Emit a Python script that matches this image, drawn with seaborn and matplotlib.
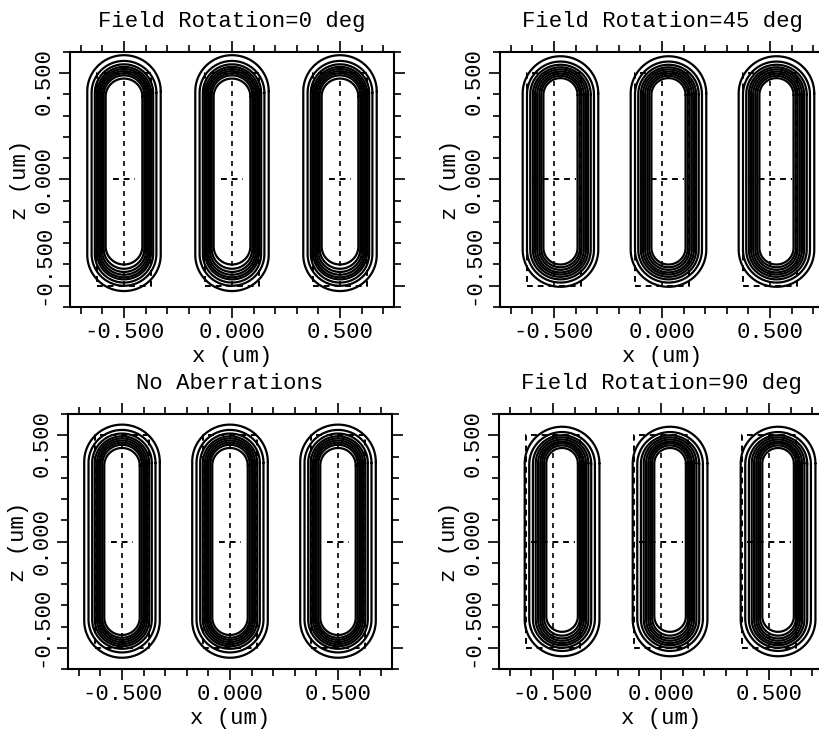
import numpy as np
import pandas as pd
import matplotlib
matplotlib.use("Agg")
import matplotlib.pyplot as plt
import matplotlib.transforms as mtransforms
from matplotlib.ticker import MultipleLocator
import seaborn as sns

# ------------------------------
# data
# ------------------------------
panel_titles = ["Field Rotation=0 deg", "Field Rotation=45 deg",
                "No Aberrations", "Field Rotation=90 deg"]
line_centers = [-0.5, 0.0, 0.5]
mask_half_width = 0.125
mask_half_length = 0.5
tick_values = [-0.5, 0.0, 0.5]
tick_labels = ["-0.500", "0.000", "0.500"]

# contour half-width / top / bottom (um), outermost first
rot0_half_width = [0.170, 0.150, 0.135, 0.125, 0.117, 0.110, 0.102, 0.094, 0.085]
rot0_top = [0.585, 0.558, 0.542, 0.530, 0.520, 0.510, 0.500, 0.490, 0.475]
rot0_bottom = [-0.525, -0.500, -0.485, -0.470, -0.460, -0.448, -0.435, -0.420, -0.400]

rot45_half_width = [0.175, 0.155, 0.140, 0.128, 0.118, 0.108, 0.098, 0.089, 0.079]
rot45_top = [0.580, 0.555, 0.540, 0.528, 0.518, 0.508, 0.498, 0.488, 0.477]
rot45_bottom = [-0.505, -0.485, -0.470, -0.458, -0.447, -0.437, -0.425, -0.413, -0.400]

noab_half_width = [0.175, 0.155, 0.138, 0.126, 0.116, 0.107, 0.099, 0.091, 0.082]
noab_top = [0.550, 0.525, 0.508, 0.495, 0.485, 0.475, 0.465, 0.455, 0.440]
noab_bottom = [-0.547, -0.522, -0.505, -0.493, -0.483, -0.473, -0.463, -0.453, -0.440]

rot90_half_width = [0.173, 0.152, 0.135, 0.122, 0.111, 0.101, 0.092, 0.083, 0.073]
rot90_top = [0.540, 0.515, 0.500, 0.490, 0.480, 0.470, 0.462, 0.452, 0.440]
rot90_bottom = [-0.540, -0.515, -0.500, -0.488, -0.478, -0.467, -0.456, -0.443, -0.425]

# image shift of the printed line in x (um) and half-length of the cross mark
image_shift = [0.0, 0.030, 0.0, 0.042]
cross_half = [0.05, 0.10, 0.05, 0.10]

contours = [
    (rot0_half_width, rot0_top, rot0_bottom),
    (rot45_half_width, rot45_top, rot45_bottom),
    (noab_half_width, noab_top, noab_bottom),
    (rot90_half_width, rot90_top, rot90_bottom),
]

# axes boxes in pixels: left, top (figure is 820x733)
W, H = 820, 733
boxes_px = [(70, 52), (500, 52), (68, 414), (499, 414)]
AX_W, AX_H = 324, 255
FS = 16


def pill(xc, hw, top, bottom, n=60):
    """closed outline: straight sides, round end caps"""
    cap = hw
    th = np.linspace(0, np.pi, n)
    ex, ez = np.cos(th), np.sin(th)
    x_top = xc + hw * ex
    z_top = top - cap + cap * ez
    x_bot = xc - hw * ex
    z_bot = bottom + cap - cap * ez
    x = np.concatenate([x_top, x_bot, x_top[:1]])
    z = np.concatenate([z_top, z_bot, z_top[:1]])
    return x, z


sns.set_theme(style="white")
plt.rcParams["font.family"] = ["Liberation Mono", "DejaVu Sans Mono"]
plt.rcParams["font.size"] = FS

fig = plt.figure(figsize=(W / 100, H / 100), dpi=100)

for i, (title, (hws, tops, bots)) in enumerate(zip(panel_titles, contours)):
    left, top_px = boxes_px[i]
    ax = fig.add_axes([left / W, 1 - (top_px + AX_H) / H, AX_W / W, AX_H / H])

    rows = []
    for j, c in enumerate(line_centers):
        for k in range(len(hws)):
            x, z = pill(c + image_shift[i], hws[k], tops[k], bots[k])
            rows.append(pd.DataFrame({"x": x, "z": z, "cid": j * 100 + k}))
    df = pd.concat(rows, ignore_index=True)
    sns.lineplot(data=df, x="x", y="z", units="cid", estimator=None, sort=False,
                 color="black", lw=1.6, ax=ax, legend=False)

    # mask outline and centre marks (dashed)
    for c in line_centers:
        x0, x1 = c - mask_half_width, c + mask_half_width
        ax.plot([x0, x1, x1, x0, x0],
                [-mask_half_length, -mask_half_length, mask_half_length,
                 mask_half_length, -mask_half_length],
                color="black", lw=1.4, ls=(0, (3, 2.5)))
        ax.plot([c, c], [-mask_half_length, mask_half_length],
                color="black", lw=1.2, ls=(0, (3, 3)))
        ax.plot([c - cross_half[i], c + cross_half[i]], [0, 0],
                color="black", lw=1.4, ls=(0, (3, 2.5)))

    ax.set_xlim(-0.75, 0.75)
    ax.set_ylim(-0.6, 0.6)
    ax.set_xticks(tick_values)
    ax.set_xticklabels(tick_labels, fontsize=FS)
    ax.set_yticks(tick_values)
    ax.set_yticklabels(tick_labels, rotation=90, va="center", fontsize=FS)
    ax.xaxis.set_minor_locator(MultipleLocator(0.1))
    ax.yaxis.set_minor_locator(MultipleLocator(0.1))
    ax.tick_params(which="both", direction="out", top=True, right=True,
                   bottom=True, left=True, color="black", width=1.2,
                   labelsize=FS, labelcolor="black")
    ax.tick_params(which="major", length=8, pad=3)
    ax.tick_params(which="minor", length=5)
    for sp in ax.spines.values():
        sp.set_visible(True)
        sp.set_color("black")
        sp.set_linewidth(1.5)
    ax.set_facecolor("white")

    # printed y labels are kept inside the axis span
    labs = ax.get_yticklabels()
    shifts = [21, 0, -8]
    for lab, dy in zip(labs, shifts):
        off = mtransforms.ScaledTranslation(0, dy / 100, fig.dpi_scale_trans)
        lab.set_transform(lab.get_transform() + off)

    ax.set_xlabel("x (um)", fontsize=FS, color="black", labelpad=2)
    ax.set_ylabel("z (um)", fontsize=FS, color="black", labelpad=2)
    ax.set_title(title, fontsize=FS, color="black", pad=18)

fig.savefig("out.png", dpi=100, facecolor="white")
